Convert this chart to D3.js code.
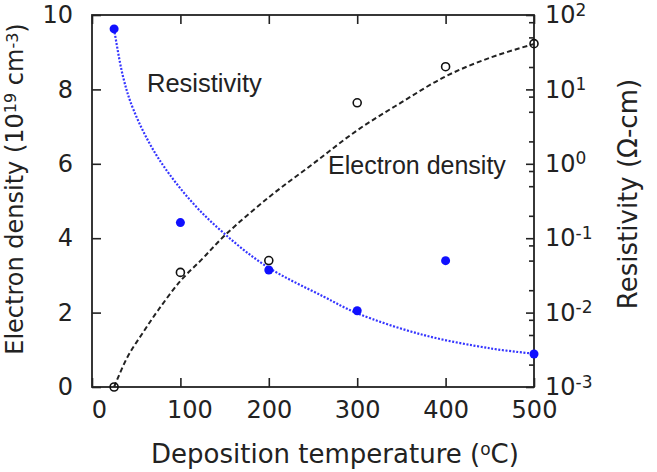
<!DOCTYPE html>
<html>
<head>
<meta charset="utf-8">
<script src="https://cdn.jsdelivr.net/npm/d3@7"></script>
<style>
body { margin: 0; background: #fff; }
svg { display: block; }
</style>
</head>
<body>
<svg id="chart"></svg>
<script>
// measured points
const temps = [25, 100, 200, 300, 400, 500]
const density = [0, 3.08, 3.40, 7.64, 8.61, 9.23]          // 10^19 cm^-3
const resistivity = [65, 0.162, 0.0374, 0.0106, 0.0499, 0.00278] // ohm-cm

// fitted guide curves
const densFitT = [25, 40, 57, 75, 100, 125, 150, 200, 250, 300, 350, 400, 450, 500]
const densFitV = [0, 0.8, 1.44, 2.07, 2.85, 3.45, 4.07, 5.1, 6.0, 6.9, 7.65, 8.35, 8.85, 9.22]
const resFitT = [25, 35, 47, 73, 111, 149, 198, 262, 300, 375, 451, 500]
const resFitV = [65, 15, 5.3, 1.3, 0.326, 0.117, 0.0414, 0.0164, 0.0098, 0.005, 0.0033, 0.0028]

const xTicks = [0, 100, 200, 300, 400, 500]
const yTicks = [0, 2, 4, 6, 8, 10]
const rExp = [2, 1, 0, -1, -2, -3]
const rMinor = [2, 5, 8]

const W = 657, H = 472
const pL = 92, pR = 534, pT = 15, pB = 387

const svg = d3.select("#chart")
.attr("width", W)
.attr("height", H)

const x = d3.scaleLinear().domain([0, 500]).range([pL, pR])
const y = d3.scaleLinear().domain([0, 10]).range([pB, pT])
const y2 = d3.scaleLog().domain([1e-3, 1e2]).range([pB, pT])

const tickFont = "'DejaVu Sans', Verdana, sans-serif"
const ink = "#222"

function styleAxis(g) {
  g.select(".domain").remove()
  g.selectAll("line").attr("stroke", ink).attr("stroke-width", 1.6)
  g.selectAll("text").attr("fill", ink).style("font-family", tickFont).style("font-size", "24px")
}

// bottom
svg.append("g")
.attr("transform", `translate(0,${pB})`)
.call(d3.axisBottom(x).tickValues(xTicks).tickSizeInner(-9).tickSizeOuter(0).tickPadding(14))
.call(styleAxis)
.selectAll(".tick text")
.attr("dx", (d) => d === 0 ? 7 : (d === 100 ? 9 : 0))

// top (ticks only)
svg.append("g")
.attr("transform", `translate(0,${pT})`)
.call(d3.axisTop(x).tickValues(xTicks).tickSizeInner(-9).tickSizeOuter(0).tickFormat(""))
.call(styleAxis)

// left
svg.append("g")
.attr("transform", `translate(${pL},0)`)
.call(d3.axisLeft(y).tickValues(yTicks).tickSizeInner(-9).tickSizeOuter(0).tickPadding(19))
.call(styleAxis)

// right, log
const rMajor = rExp.map(e => Math.pow(10, e))
const rAxis = svg.append("g")
.attr("transform", `translate(${pR},0)`)
.call(d3.axisRight(y2).tickValues(rMajor).tickSizeInner(-8).tickSizeOuter(0).tickPadding(11)
  .tickFormat(() => "10"))
.call(styleAxis)

rAxis.selectAll(".tick text")
.append("tspan")
.attr("dy", "-0.45em")
.style("font-size", "17px")
.text((d) => Math.round(Math.log10(d)))

let minorVals = []
rExp.slice(1).forEach(e => {
  rMinor.forEach(k => minorVals.push(k * Math.pow(10, e)))
})
svg.append("g")
.attr("transform", `translate(${pR},0)`)
.call(d3.axisRight(y2).tickValues(minorVals).tickSizeInner(-5).tickSizeOuter(0).tickFormat(""))
.call(styleAxis)

// frame
svg.append("rect")
.attr("x", pL)
.attr("y", pT)
.attr("width", pR - pL)
.attr("height", pB - pT)
.attr("fill", "none")
.attr("stroke", ink)
.attr("stroke-width", 1.8)

// fit lines
const densLine = d3.line()
.x((d, i) => x(densFitT[i]))
.y((d) => y(d))
.curve(d3.curveCatmullRom.alpha(0.5))

const resLine = d3.line()
.x((d, i) => x(resFitT[i]))
.y((d) => y2(d))
.curve(d3.curveCatmullRom.alpha(0.5))

svg.append("path")
.attr("d", densLine(densFitV))
.attr("fill", "none")
.attr("stroke", "#222")
.attr("stroke-width", 2)
.attr("stroke-dasharray", "5,3")

svg.append("path")
.attr("d", resLine(resFitV))
.attr("fill", "none")
.attr("stroke", "#3535ff")
.attr("stroke-width", 2.2)
.attr("stroke-dasharray", "2,1.6")

// points
svg.append("g").selectAll("circle")
.data(resistivity)
.enter()
.append("circle")
.attr("cx", (d, i) => x(temps[i]))
.attr("cy", (d) => y2(d))
.attr("r", 4.5)
.attr("fill", "#1010ff")

svg.append("g").selectAll("circle")
.data(density)
.enter()
.append("circle")
.attr("cx", (d, i) => x(temps[i]))
.attr("cy", (d) => y(d))
.attr("r", 4)
.attr("fill", "none")
.attr("stroke", "#111")
.attr("stroke-width", 1.6)

// in-plot labels
const labelFont = "'Liberation Sans', Arial, sans-serif"
svg.append("text")
.attr("x", 147)
.attr("y", 92)
.style("font-family", labelFont)
.style("font-size", "25.5px")
.attr("fill", ink)
.text("Resistivity")

svg.append("text")
.attr("x", 328)
.attr("y", 174)
.style("font-family", labelFont)
.style("font-size", "25px")
.attr("fill", ink)
.text("Electron density")

// axis titles
const xTitle = svg.append("text")
.attr("x", 335)
.attr("y", 463)
.attr("text-anchor", "middle")
.style("font-family", tickFont)
.style("font-size", "26px")
.attr("fill", ink)
xTitle.append("tspan").text("Deposition temperature (")
xTitle.append("tspan").attr("dy", "-0.45em").style("font-size", "17px").text("o")
xTitle.append("tspan").attr("dy", "0.3em").text("C)")

const yTitle = svg.append("text")
.attr("transform", "translate(23,189) rotate(-90)")
.attr("text-anchor", "middle")
.style("font-family", tickFont)
.style("font-size", "24px")
.attr("fill", ink)
yTitle.append("tspan").text("Electron density (10")
yTitle.append("tspan").attr("dy", "-0.45em").style("font-size", "16px").text("19")
yTitle.append("tspan").attr("dy", "0.3em").text(" cm")
yTitle.append("tspan").attr("dy", "-0.3em").style("font-size", "16px").text("-3")
yTitle.append("tspan").attr("dy", "0.3em").text(")")

svg.append("text")
.attr("transform", "translate(637,194) rotate(-90)")
.attr("text-anchor", "middle")
.style("font-family", tickFont)
.style("font-size", "26px")
.attr("fill", ink)
.text("Resistivity (\u03A9-cm)")
</script>
</body>
</html>
